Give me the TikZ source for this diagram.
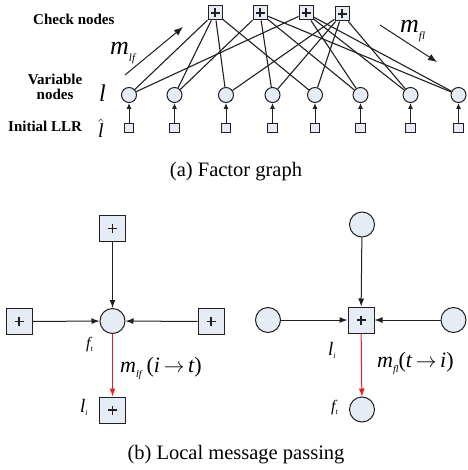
\documentclass[tikz,border=0pt]{standalone}
\usepackage{fontspec}
\setmainfont{Liberation Serif}
\usetikzlibrary{arrows.meta}
\definecolor{nodefill}{RGB}{230,236,246}
\definecolor{edgecol}{RGB}{35,31,32}
\definecolor{redarrow}{RGB}{237,28,36}
\newcommand{\mysub}[3]{\raisebox{-#1}{\fontsize{#2}{#2}\selectfont\itshape #3}}
\begin{document}
\begin{tikzpicture}[x=1pt,y=-1pt,
  vnode/.style={circle,draw=edgecol,line width=1pt,fill=nodefill,minimum size=15pt,inner sep=0pt},
  cnode/.style={rectangle,draw=edgecol,line width=1pt,fill=nodefill,minimum size=14pt,inner sep=0pt,
     path picture={\draw[line width=1.5pt,edgecol] ([xshift=-4.5pt]path picture bounding box.center) -- ([xshift=4.5pt]path picture bounding box.center);
                   \draw[line width=1.5pt,edgecol] ([yshift=-4.5pt]path picture bounding box.center) -- ([yshift=4.5pt]path picture bounding box.center);}},
  llrnode/.style={rectangle,draw=edgecol,line width=0.9pt,fill=nodefill,minimum size=9.5pt,inner sep=0pt},
  bsq/.style={rectangle,draw=edgecol,line width=1pt,fill=nodefill,minimum size=26pt,inner sep=0pt,
     path picture={\draw[line width=1.4pt,edgecol] ([xshift=-4.5pt]path picture bounding box.center) -- ([xshift=4.5pt]path picture bounding box.center);
                   \draw[line width=1.4pt,edgecol] ([yshift=-4.5pt]path picture bounding box.center) -- ([yshift=4.5pt]path picture bounding box.center);}},
  bcirc/.style={circle,draw=edgecol,line width=1pt,fill=nodefill,minimum size=25pt,inner sep=0pt},
  edge/.style={line width=1.1pt,edgecol},
  sarrow/.style={line width=1pt,edgecol,-{Latex[length=6pt,width=5pt]}},
  marrow/.style={line width=1pt,edgecol,-{Latex[length=9pt,width=7pt]}},
  barrow/.style={line width=1pt,edgecol,-{Latex[length=8pt,width=6pt]}},
  rarrow/.style={line width=1pt,redarrow,-{Latex[length=8pt,width=6pt]}},
  lbl/.style={inner sep=0pt,anchor=base west},
  boldlbl/.style={inner sep=0pt,font=\fontsize{15}{15}\selectfont\bfseries}
]
\useasboundingbox (0,0) rectangle (467,470);

% ---------- (a) factor graph ----------
\node[cnode] (C1) at (215,13) {};
\node[cnode] (C2) at (260,13) {};
\node[cnode] (C3) at (306,13) {};
\node[cnode] (C4) at (342,14) {};

\foreach \i/\x in {1/129,2/174.5,3/226,4/272.5,5/315,6/360.5,7/410.5,8/458.5}{
  \node[vnode] (V\i) at (\x,95) {};
  \node[llrnode] (L\i) at (\x,128) {};
  \draw[sarrow] (L\i) -- (V\i);
}

\foreach \c/\v in {1/1,1/2,1/3,1/5, 2/2,2/4,2/6,2/8, 3/1,3/6,3/7,3/8, 4/3,4/4,4/5,4/7}{
  \draw[edge] (C\c) -- (V\v);
}

\node[boldlbl,anchor=base west] (tcheck) at (33,25) {Check nodes};
\node[boldlbl,anchor=base] (tvar1) at (55,85) {Variable};
\node[boldlbl,anchor=base] (tvar2) at (55,100) {nodes};
\node[boldlbl,anchor=base west] (tllr) at (8,132) {Initial LLR};
\node[lbl] (tl) at (99,102) {\fontsize{24}{24}\selectfont\itshape l};
\node[lbl] (tlhat) at (98,138) {\fontsize{20}{20}\selectfont$\hat{\mbox{\itshape l}}$};

\coordinate (mlfs) at (125,75);
\coordinate (mlfe) at (183,27);
\draw[marrow] (mlfs) -- (mlfe);
\node[lbl] (tmlf) at (110,55) {\fontsize{26}{26}\selectfont\itshape m\mysub{7pt}{11}{lf}};

\coordinate (mfls) at (380,25);
\coordinate (mfle) at (437,62);
\draw[marrow] (mfls) -- (mfle);
\node[lbl] (tmfl) at (400,33) {\fontsize{26}{26}\selectfont\itshape m\mysub{7pt}{11}{fl}};

\node[inner sep=0pt,anchor=base] (capa) at (236,176) {\fontsize{20.5}{20.5}\selectfont (a) Factor graph};

% ---------- (b) local message passing, left ----------
\node[bsq] (T1) at (112.5,228.5) {};
\node[bcirc] (O1) at (112.5,321) {};
\node[bsq] (W1) at (19,321.5) {};
\node[bsq] (E1) at (211,321.5) {};
\node[bsq] (B1) at (112.5,410) {};
\draw[barrow] (T1) -- (O1);
\draw[barrow] (W1) -- (O1);
\draw[barrow] (E1) -- (O1);
\draw[rarrow] (O1) -- (B1);

\node[lbl] (tft1) at (86,348) {\fontsize{16}{16}\selectfont\itshape f\mysub{3pt}{8}{t}};
\node[lbl] (tli1) at (80,412) {\fontsize{19}{19}\selectfont\itshape l\mysub{3pt}{8}{i}};
\node[lbl] (tm1) at (120,372) {\fontsize{22}{22}\selectfont\itshape m\mysub{5pt}{10}{lf}\hspace{5pt}\upshape(\itshape i\upshape\,$\rightarrow$\,\itshape t\upshape)};

% ---------- (b) right ----------
\node[bcirc] (T2) at (362,224.5) {};
\node[bsq] (O2) at (361,320) {};
\node[bcirc] (W2) at (268,320) {};
\node[bcirc] (E2) at (453.5,320) {};
\node[bcirc] (B2) at (362,409.5) {};
\draw[barrow] (T2) -- (O2);
\draw[barrow] (W2) -- (O2);
\draw[barrow] (E2) -- (O2);
\draw[rarrow] (O2) -- (B2);

\node[lbl] (tli2) at (328,355) {\fontsize{19}{19}\selectfont\itshape l\mysub{3pt}{8}{i}};
\node[lbl] (tm2) at (377,367) {\fontsize{22}{22}\selectfont\itshape m\mysub{5pt}{10}{fl}\upshape(\itshape t\upshape\,$\rightarrow$\,\itshape i\upshape)};
\node[lbl] (tft2) at (331,411) {\fontsize{16}{16}\selectfont\itshape f\mysub{3pt}{8}{t}};

\node[inner sep=0pt,anchor=base] (capb) at (236,459) {\fontsize{20.5}{20.5}\selectfont (b) Local message passing};
\end{tikzpicture}
\end{document}
